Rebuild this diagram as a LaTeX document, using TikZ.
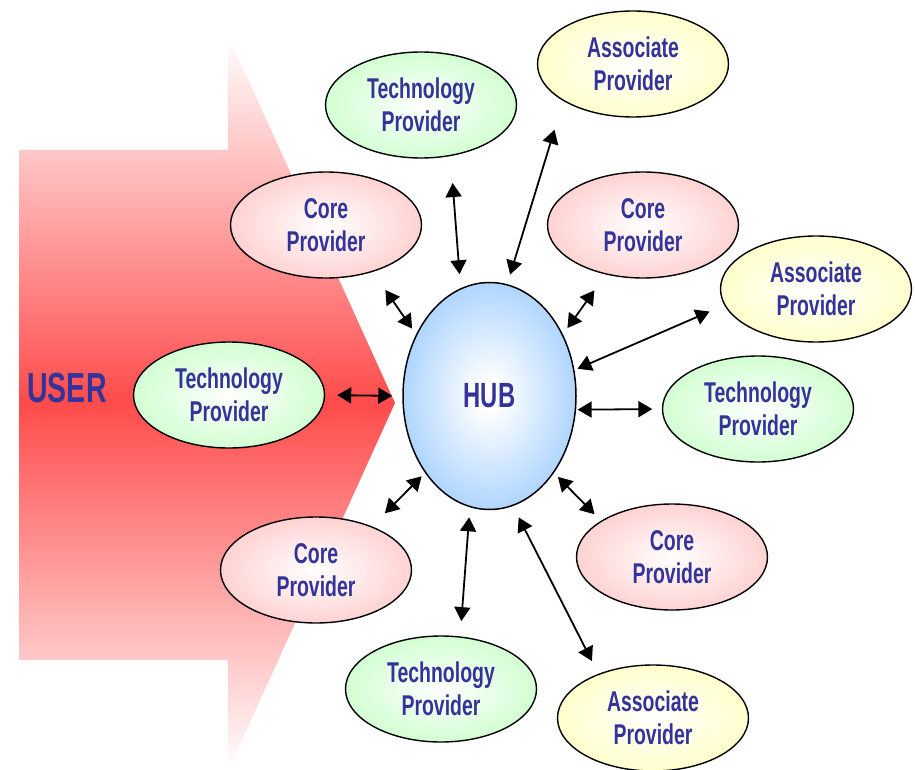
\documentclass[tikz,border=0pt]{standalone}
\usepackage{fontspec}
\setmainfont{Liberation Sans}[FakeStretch=0.68]
\usepackage{xcolor}
\usetikzlibrary{shapes.geometric, arrows.meta}

\definecolor{provblue}{RGB}{51,51,153}
\definecolor{userred}{RGB}{255,75,75}
\definecolor{coreedge}{RGB}{255,198,198}
\definecolor{techedge}{RGB}{198,255,198}
\definecolor{assocedge}{RGB}{255,255,190}
\definecolor{hubedge}{RGB}{150,200,255}

\pgfdeclareradialshading{coreshade}{\pgfpoint{0bp}{0bp}}%
  {color(0bp)=(white); color(32bp)=(coreedge); color(72bp)=(coreedge)}
\pgfdeclareradialshading{techshade}{\pgfpoint{0bp}{0bp}}%
  {color(0bp)=(white); color(32bp)=(techedge); color(72bp)=(techedge)}
\pgfdeclareradialshading{assocshade}{\pgfpoint{0bp}{0bp}}%
  {color(0bp)=(white); color(32bp)=(assocedge); color(72bp)=(assocedge)}
\pgfdeclareradialshading{hubshade}{\pgfpoint{0bp}{0bp}}%
  {color(0bp)=(white); color(3bp)=(white); color(32bp)=(hubedge); color(72bp)=(hubedge)}

\begin{document}
\begin{tikzpicture}[x=1pt, y=-1pt,
  provider/.style={ellipse, draw=black, line width=1.4pt, shade,
    minimum width=191pt, minimum height=106pt, inner sep=0pt, align=center,
    text=provblue, font=\bfseries\fontsize{28.6}{33}\selectfont},
  core/.style={provider, shading=coreshade},
  tech/.style={provider, shading=techshade},
  assoc/.style={provider, shading=assocshade},
  link/.style={<->, >={Triangle[length=14pt, width=16pt]}, line width=1.8pt}]
  \useasboundingbox (0,0) rectangle (915,770);

  % User arrow
  \shade[top color=white, bottom color=white, middle color=userred]
     (19,150) -- (228,150) -- (228,35) -- (395,403) -- (228,771)
     -- (228,660) -- (19,660) -- cycle;
  \node[text=provblue, font=\bfseries\fontsize{42}{50}\selectfont]
     (user) at (67,388) {USER};

  % Hub
  \node[ellipse, draw=black, line width=1.5pt, shade, shading=hubshade,
     minimum width=173pt, minimum height=227pt, inner sep=0pt,
     text=provblue, font=\bfseries\fontsize{35}{40}\selectfont]
     (hub) at (489.5,396) {HUB};

  % Providers
  \node[tech]  (techT)  at (421,105) {Technology\\Provider};
  \node[assoc] (assocT) at (633,64)  {Associate\\Provider};
  \node[core]  (coreTL) at (326,225) {Core\\Provider};
  \node[core]  (coreTR) at (643,225) {Core\\Provider};
  \node[assoc] (assocR) at (816,289) {Associate\\Provider};
  \node[tech]  (techL)  at (229,395) {Technology\\Provider};
  \node[tech]  (techR)  at (758,409) {Technology\\Provider};
  \node[core]  (coreBR) at (672,557) {Core\\Provider};
  \node[core]  (coreBL) at (316,570) {Core\\Provider};
  \node[tech]  (techB)  at (441,689) {Technology\\Provider};
  \node[assoc] (assocB) at (653,718) {Associate\\Provider};

  % Links to the hub
  \draw[link, shorten <=27pt, shorten >=14pt] (techT.-60) -- (hub.105);
  \draw[link, shorten <=30pt, shorten >=10pt] (assocT.208) -- (hub.81);
  \draw[link, shorten <=22pt, shorten >=7pt] (coreTL.-45) -- (hub.140);
  \draw[link, shorten <=19.5pt, shorten >=7.7pt] (coreTR.233) -- (hub.40);
  \draw[link, shorten <=16pt, shorten >=3.3pt] (assocR.190) -- (hub.17);
  \draw[link, shorten <=12pt, shorten >=10pt] (techL.east) -- (hub.west);
  \draw[link, shorten <=1.5pt, shorten >=9.5pt] (hub.-9) -- (techR.west);
  \draw[link, shorten <=18.4pt, shorten >=4.8pt] (coreBL.38) -- (hub.230);
  \draw[link, shorten <=9.2pt, shorten >=5.6pt] (coreBR.153) -- (hub.-50);
  \draw[link, shorten <=15.3pt, shorten >=10pt] (techB.70) -- (hub.260);
  \draw[link, shorten <=14.3pt, shorten >=12.7pt] (assocB.141) -- (hub.-78);
\end{tikzpicture}
\end{document}
